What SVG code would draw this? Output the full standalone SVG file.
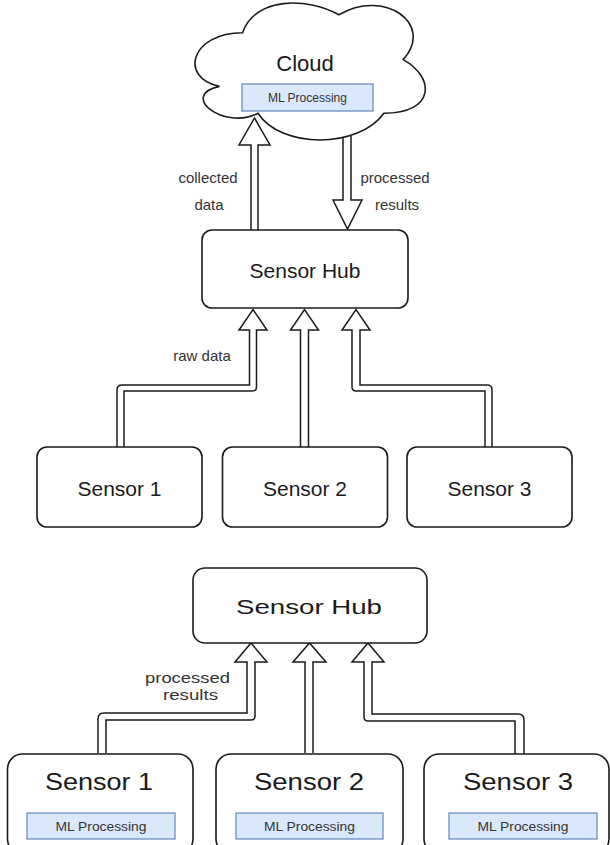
<svg xmlns="http://www.w3.org/2000/svg" width="610" height="845" viewBox="0 0 610 845">
<style>
.box{fill:#ffffff;stroke:#1a1a1a;stroke-width:1.6}
.ml{fill:#dae8fc;stroke:#6c8ebf;stroke-width:1.3}
.arrow{fill:#ffffff;stroke:#1a1a1a;stroke-width:1.5;stroke-linejoin:miter}
.t{font-family:"Liberation Sans",Arial,sans-serif;fill:#1a1a1a;text-anchor:middle}
.lbl{font-family:"Liberation Sans",Arial,sans-serif;fill:#333333;text-anchor:middle;font-size:15px}
.mlt{font-family:"Liberation Sans",Arial,sans-serif;fill:#333333;text-anchor:middle;font-size:12px}
</style>
<rect width="610" height="845" fill="#ffffff"/>

<!-- connectors -->
<g id="connectors">
  <!-- top: hub -> cloud -->
  <path class="arrow" d="M251,230 V145 H239 L254.5,118 L270,145 H258 V230"/>
  <!-- top: cloud -> hub -->
  <path class="arrow" d="M343,136 V200 H333 L347.5,229 L362,200 H351 V136"/>
  <!-- top sensors -> hub -->
  <path class="arrow" d="M117,447 V390 Q117,385 122,385 H249.5 V330 H239 L253,309.5 L267,330 H256.5 V387 Q256.5,391 252.5,391 H124 V447"/>
  <path class="arrow" d="M300.5,447 V330 H290.5 L304.5,309.5 L318.5,330 H308.5 V447"/>
  <path class="arrow" d="M485,447 V391 H356 Q352,391 352,387 V330 H342 L356,309.5 L370,330 H360 V385 H487 Q492,385 492,390 V447"/>
  <!-- bottom sensors -> hub -->
  <path class="arrow" d="M98,753 V719 Q98,713 104,713 H247 V662 H235 L251,643 L267,662 H255 V716 Q255,720 251,720 H106 V753"/>
  <path class="arrow" d="M305,753 V662 H293 L309.5,643 L326,662 H313 V753"/>
  <path class="arrow" d="M515,755 V721 H368 Q364,721 364,717 V662 H352 L368,643 L384,662 H372 V714 H518 Q524,714 524,720 V755"/>
</g>

<!-- top section -->
<g id="cloud">
  <path class="box" d="M242.6,32.7 C191.2,32.7 178.3,77.5 219.4,86.4 C178.3,95.3 224.6,131.1 258,113.2 C281.1,149 358.2,149 383.9,113.2 C435.3,113.2 435.3,77.5 403.2,59.6 C435.3,23.8 383.9,-12 338.9,14.8 C306.8,-3.1 255.4,-3.1 242.6,32.7 Z"/>
  <text class="t" x="305" y="71" font-size="22">Cloud</text>
  <rect class="ml" x="242" y="84" width="131" height="27"/>
  <text class="mlt" x="307.5" y="102">ML Processing</text>
</g>

<g id="labels-top">
  <text class="lbl" x="208" y="183">collected</text>
  <text class="lbl" x="209" y="210">data</text>
  <text class="lbl" x="395" y="183">processed</text>
  <text class="lbl" x="397" y="210">results</text>
  <text class="lbl" x="202" y="361">raw data</text>
</g>

<g id="hub-top">
  <rect class="box" x="202" y="230" width="206" height="78" rx="10"/>
  <text class="t" x="305" y="277.5" font-size="21">Sensor Hub</text>
</g>

<g id="sensor1-top">
  <rect class="box" x="37" y="447" width="165" height="80" rx="10"/>
  <text class="t" x="119.5" y="495.5" font-size="21">Sensor 1</text>
</g>
<g id="sensor2-top">
  <rect class="box" x="222.5" y="447" width="165" height="80" rx="10"/>
  <text class="t" x="305" y="495.5" font-size="21">Sensor 2</text>
</g>
<g id="sensor3-top">
  <rect class="box" x="407" y="447" width="165" height="80" rx="10"/>
  <text class="t" x="489.5" y="495.5" font-size="21">Sensor 3</text>
</g>

<!-- bottom section -->
<g id="hub-bottom">
  <rect class="box" x="193" y="568" width="234" height="75" rx="12"/>
  <text class="t" x="309" y="614" font-size="21" textLength="146" lengthAdjust="spacingAndGlyphs">Sensor Hub</text>
</g>

<g id="labels-bottom">
  <text class="lbl" x="187.5" y="683" font-size="15" textLength="85" lengthAdjust="spacingAndGlyphs">processed</text>
  <text class="lbl" x="190.5" y="700" font-size="15" textLength="55" lengthAdjust="spacingAndGlyphs">results</text>
</g>

<g id="sensor1-bottom">
  <rect class="box" x="7.5" y="754" width="185.5" height="100" rx="15"/>
  <text class="t" x="99" y="790" font-size="24" textLength="108" lengthAdjust="spacingAndGlyphs">Sensor 1</text>
  <rect class="ml" x="27" y="813" width="148" height="26"/>
  <text class="mlt" x="101" y="830.5" textLength="91" lengthAdjust="spacingAndGlyphs">ML Processing</text>
</g>
<g id="sensor2-bottom">
  <rect class="box" x="216" y="754" width="187" height="100" rx="15"/>
  <text class="t" x="309" y="790" font-size="24" textLength="110" lengthAdjust="spacingAndGlyphs">Sensor 2</text>
  <rect class="ml" x="236" y="813" width="147" height="26"/>
  <text class="mlt" x="309.5" y="830.5" textLength="91" lengthAdjust="spacingAndGlyphs">ML Processing</text>
</g>
<g id="sensor3-bottom">
  <rect class="box" x="424" y="754" width="185" height="100" rx="15"/>
  <text class="t" x="518" y="790" font-size="24" textLength="110" lengthAdjust="spacingAndGlyphs">Sensor 3</text>
  <rect class="ml" x="449" y="813" width="148" height="26"/>
  <text class="mlt" x="523" y="830.5" textLength="91" lengthAdjust="spacingAndGlyphs">ML Processing</text>
</g>
</svg>
